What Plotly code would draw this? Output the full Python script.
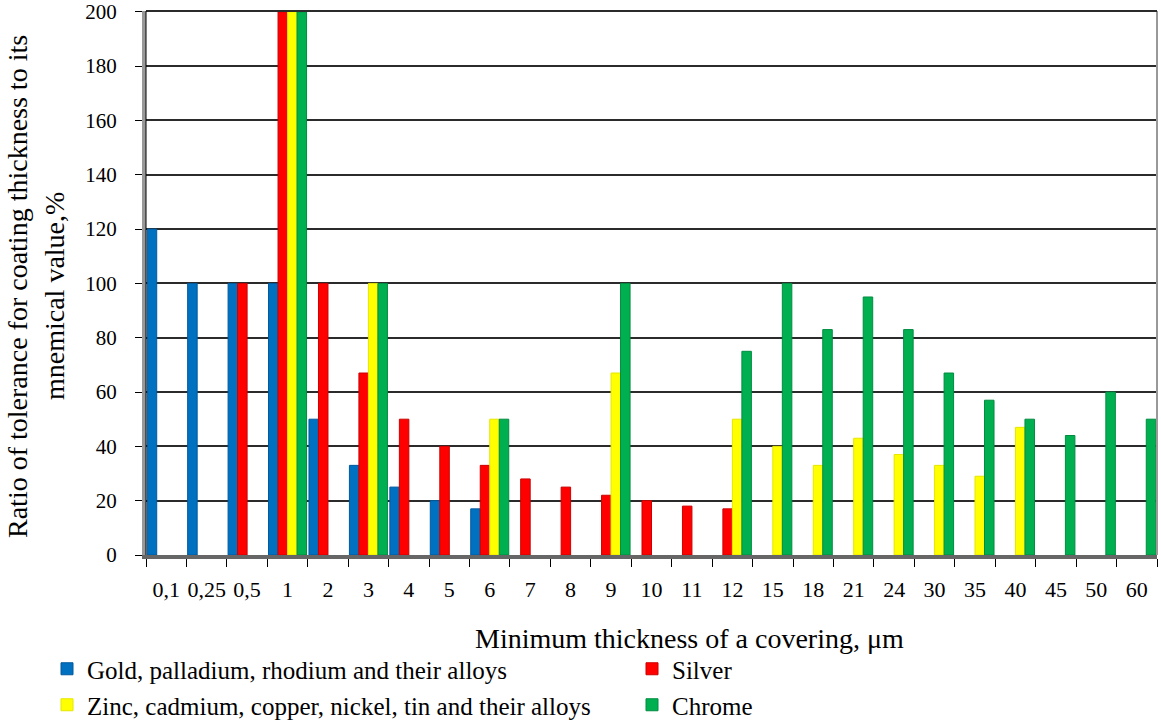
import plotly.graph_objects as go

categories = ["0,1", "0,25", "0,5", "1", "2", "3", "4", "5", "6", "7", "8", "9", "10",
              "11", "12", "15", "18", "21", "24", "30", "35", "40", "45", "50", "60"]

gold = [120, 100, 100, 100, 50, 33, 25, 20, 17, None, None, None, None,
        None, None, None, None, None, None, None, None, None, None, None, None]
silver = [None, None, 100, 200, 100, 67, 50, 40, 33, 28, 25, 22, 20,
          18, 17, None, None, None, None, None, None, None, None, None, None]
zinc = [None, None, None, 200, None, 100, None, None, 50, None, None, 67, None,
        None, 50, 40, 33, 43, 37, 33, 29, 47, None, None, None]
chrome = [None, None, None, 200, None, 100, None, None, 50, None, None, 100, None,
          None, 75, 100, 83, 95, 83, 67, 57, 50, 44, 60, 50]

names = ["Gold, palladium, rhodium and their alloys", "Silver",
         "Zinc, cadmium, copper, nickel, tin and their alloys", "Chrome"]
colors = ["#0070C0", "#FF0000", "#FFFF00", "#00B050"]
edges = ["#005A9E", "#CC0000", "#E6E600", "#008C40"]
legends = ["legend", "legend2", "legend3", "legend4"]

FONT = "Liberation Serif"
T, B = 11, 167
PH = 722 - T - B

fig = go.Figure()
for vals, name, col, edge, lg in zip([gold, silver, zinc, chrome], names, colors, edges, legends):
    fig.add_trace(go.Bar(x=categories, y=vals, name=name, legend=lg,
                         marker=dict(color=col, line=dict(color=edge, width=1))))

def leg(xpx, ypx):
    return dict(orientation="h", xref="container", yref="container",
                x=xpx / 1161, y=1 - ypx / 722, xanchor="left", yanchor="middle",
                font=dict(family=FONT, size=25), bgcolor="rgba(0,0,0,0)")

def py(ypx):
    return (722 - B - ypx) / PH

fig.update_layout(
    width=1161, height=722,
    margin=dict(l=146, r=4, t=T, b=B, autoexpand=False),
    paper_bgcolor="white", plot_bgcolor="white",
    barmode="group", bargap=0.06, bargroupgap=0,
    font=dict(family=FONT, color="black", size=20),
    showlegend=True,
    legend=leg(47, 669),
    legend2=leg(632, 669),
    legend3=leg(47, 705),
    legend4=leg(632, 705),
    xaxis=dict(type="category", showgrid=False, showline=True, linecolor="#666", linewidth=4,
               ticks="outside", tickson="boundaries", ticklen=8, tickcolor="black",
               tickangle=0, tickfont=dict(family=FONT, size=22), ticklabelstandoff=12,
               automargin=False),
    yaxis=dict(range=[0, 200.3], tickvals=list(range(0, 201, 20)), showgrid=True,
               gridcolor="#2b2b2b", gridwidth=1.6,
               showline=True, linecolor="#999", linewidth=4, ticks="outside", ticklen=7,
               tickcolor="black", tickfont=dict(family=FONT, size=21), ticklabelstandoff=14,
               ticklabeloverflow="allow", zeroline=False, automargin=False),
    shapes=[dict(type="line", xref="paper", yref="paper", x0=1, x1=1, y0=0, y1=1,
                 line=dict(color="#999", width=2)),
            dict(type="line", xref="paper", yref="paper", x0=0, x1=1, y0=1, y1=1,
                 line=dict(color="#2b2b2b", width=2)),
            dict(type="line", xref="paper", yref="paper", x0=0, x1=0, y0=0, y1=1,
                 line=dict(color="black", width=1))],
    annotations=[
        dict(text="Minimum thickness of a covering, μm", xref="paper", yref="paper",
             x=(689 - 146) / 1011, y=py(638), xanchor="center", yanchor="middle",
             showarrow=False, font=dict(family=FONT, size=28)),
        dict(text="Ratio of tolerance for coating thickness to its", xref="paper", yref="paper",
             x=(17 - 146) / 1011, y=py(287), xanchor="center", yanchor="middle",
             textangle=-90, showarrow=False, font=dict(family=FONT, size=28)),
        dict(text="mnemical value,%", xref="paper", yref="paper",
             x=(54 - 146) / 1011, y=py(296), xanchor="center", yanchor="middle",
             textangle=-90, showarrow=False, font=dict(family=FONT, size=28)),
    ],
)

fig.write_html("out.html", config={"displayModeBar": False},
               post_script="document.body.style.margin='0';")
